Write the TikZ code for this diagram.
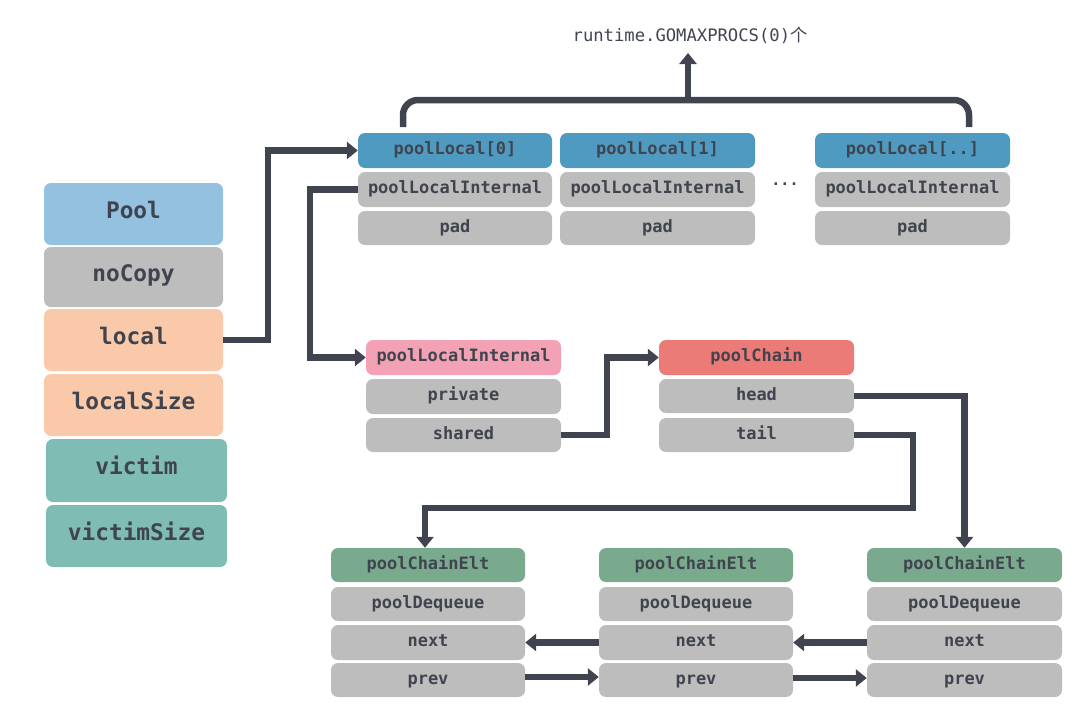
\documentclass[tikz,border=0pt]{standalone}
\usepackage{fontspec}
\setmonofont{DejaVu Sans Mono}
\newfontfamily\cjk{Noto Sans CJK SC}
\usetikzlibrary{arrows.meta}
\definecolor{txt}{HTML}{40444F}
\definecolor{cpool}{HTML}{93C1DF}
\definecolor{cgray}{HTML}{BDBDBD}
\definecolor{cpeach}{HTML}{F9C9A9}
\definecolor{cteal}{HTML}{7FBDB4}
\definecolor{cblue}{HTML}{4F9AC0}
\definecolor{cpink}{HTML}{F3A1B5}
\definecolor{cred}{HTML}{EC7B77}
\definecolor{cgreen}{HTML}{79AA8E}
% [opts] x1 y1 x2 y2 text fill name
\newcommand\bx[8][]{\node[box,#1,fill=#7,minimum width=#4pt-#2pt,minimum height=#5pt-#3pt] (#8) at ({(#2+#4)/2},{(#3+#5)/2}) {#6};}
\begin{document}
\begin{tikzpicture}[x=1pt,y=-1pt,
  box/.style={rounded corners=7pt,inner sep=0pt,text=txt,
    font=\ttfamily\bfseries\fontsize{17}{18}\selectfont,
    text height=0.9em,text depth=0.1em},
  big/.style={font=\ttfamily\bfseries\fontsize{22.8}{24}\selectfont},
  conn/.style={draw=txt,line width=6.5pt,-{Triangle[length=11pt,width=17pt]}},
  brace/.style={draw=txt,line width=6.5pt,rounded corners=15pt}]
\useasboundingbox (0,0) rectangle (1084,718);
% left Pool struct
\bx[big]{44}{183}{223}{245}{Pool}{cpool}{pool}
\bx[big]{44}{247}{223}{307}{noCopy}{cgray}{nocopy}
\bx[big]{44}{309}{223}{371}{local}{cpeach}{local}
\bx[big]{44}{374}{223}{436}{localSize}{cpeach}{localsize}
\bx[big]{46}{439}{227}{502}{victim}{cteal}{victim}
\bx[big]{46}{505}{227}{567}{victimSize}{cteal}{victimsize}
% poolLocal array
\bx{358}{133}{552}{168}{poolLocal[0]}{cblue}{pl0}
\bx{358}{172}{552}{207}{poolLocalInternal}{cgray}{pli0}
\bx{358}{211}{552}{245}{pad}{cgray}{pad0}
\bx{560}{133}{755}{168}{poolLocal[1]}{cblue}{pl1}
\bx{560}{172}{755}{207}{poolLocalInternal}{cgray}{pli1}
\bx{560}{211}{755}{245}{pad}{cgray}{pad1}
\bx{815}{133}{1010}{168}{poolLocal[..]}{cblue}{pl2}
\bx{815}{172}{1010}{207}{poolLocalInternal}{cgray}{pli2}
\bx{815}{211}{1010}{245}{pad}{cgray}{pad2}
\node[text=txt,font=\ttfamily\bfseries\fontsize{15}{18}\selectfont] (dots) at (785,184) {...};
% brace and title
\node[text=txt,font=\ttfamily\fontsize{17.2}{18}\selectfont,inner sep=0pt] (title) at (690,35) {runtime.GOMAXPROCS(0){\cjk 个}};
\coordinate (bl) at (403,127);
\coordinate (br) at (969,127);
\coordinate (bm) at (688,100);
\coordinate (bt) at (688,53);
\draw[brace] (bl) |- (bm) -| (br);
\draw[conn] (bm) -- (bt);
% poolLocalInternal & poolChain
\bx{366}{340}{561}{375}{poolLocalInternal}{cpink}{mpli}
\bx{366}{379}{561}{414}{private}{cgray}{private}
\bx{366}{418}{561}{452}{shared}{cgray}{shared}
\bx{659}{340}{854}{375}{poolChain}{cred}{chain}
\bx{659}{379}{854}{413}{head}{cgray}{head}
\bx{659}{418}{854}{452}{tail}{cgray}{tail}
% poolChainElt
\bx{331}{548}{525}{582}{poolChainElt}{cgreen}{e1}
\bx{331}{587}{525}{621}{poolDequeue}{cgray}{d1}
\bx{331}{625}{525}{660}{next}{cgray}{n1}
\bx{331}{663}{525}{697}{prev}{cgray}{p1}
\bx{599}{548}{793}{582}{poolChainElt}{cgreen}{e2}
\bx{599}{587}{793}{621}{poolDequeue}{cgray}{d2}
\bx{599}{625}{793}{660}{next}{cgray}{n2}
\bx{599}{663}{793}{697}{prev}{cgray}{p2}
\bx{867}{548}{1062}{582}{poolChainElt}{cgreen}{e3}
\bx{867}{587}{1062}{621}{poolDequeue}{cgray}{d3}
\bx{867}{625}{1062}{660}{next}{cgray}{n3}
\bx{867}{663}{1062}{697}{prev}{cgray}{p3}
% connectors
\draw[conn] (local.east) -- ++(45,0) |- (pl0.west);
\draw[conn] (pli0.west) -- ++(-48,0) |- (mpli.west);
\draw[conn] (shared.east) -- ++(46,0) |- (chain.west);
\draw[conn] (head.east) -| (e3.north);
\coordinate (tt) at (913,508);
\draw[conn] (tail.east) -| (tt) -| ([xshift=-3pt]e1.north);
\draw[conn] (n2.west) -- (n1.east);
\draw[conn] (n3.west) -- (n2.east);
\draw[conn] ([yshift=3pt]p1.east) -- ([yshift=3pt]p2.west);
\draw[conn] ([yshift=2pt]p2.east) -- ([yshift=2pt]p3.west);
\end{tikzpicture}
\end{document}
